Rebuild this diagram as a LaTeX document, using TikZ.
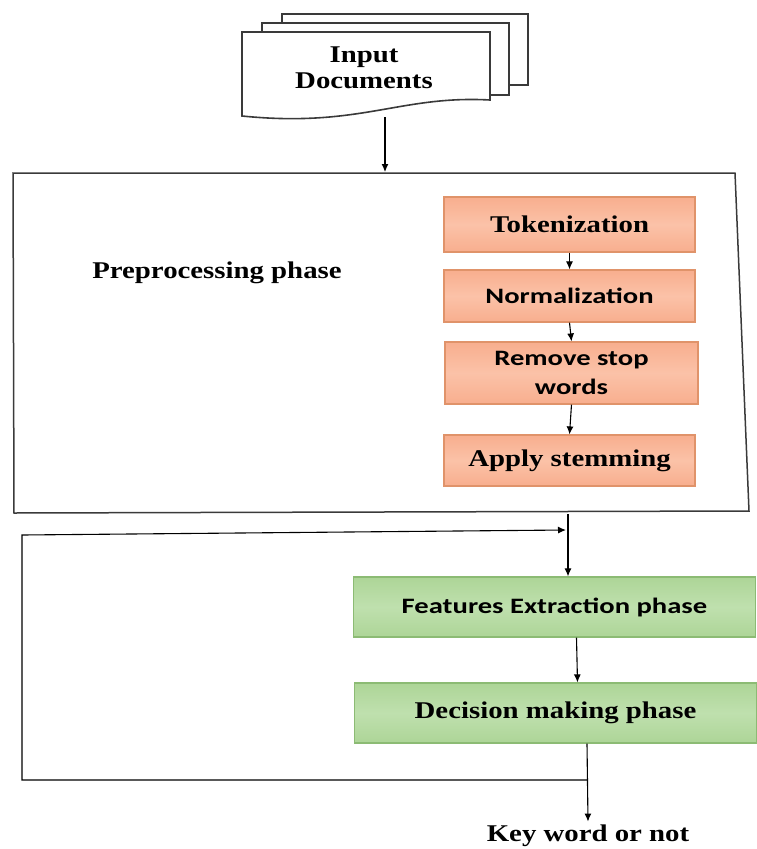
\documentclass[tikz,border=0pt]{standalone}
\usepackage{fontspec}
\setmainfont{Liberation Serif}[FakeStretch=1.2]
\newfontfamily\calib{Carlito}[FakeStretch=1.3]
\usetikzlibrary{calc}
\usetikzlibrary{arrows.meta}
\usetikzlibrary{positioning}
\usepackage{xcolor}
\definecolor{orfill}{HTML}{F8AE8E}
\definecolor{orlight}{HTML}{FBC2A8}
\definecolor{ordraw}{HTML}{E0936A}
\definecolor{grfill}{HTML}{ADD597}
\definecolor{grlight}{HTML}{BFE0AE}
\definecolor{grdraw}{HTML}{8CBB74}
\definecolor{frame}{HTML}{3A3A3A}

\tikzset{
  serifbig/.style={font=\fontsize{24}{26}\selectfont\bfseries},
  sansbig/.style={font=\fontsize{22}{29}\selectfont\calib\bfseries},
  stepbox/.style={draw=ordraw, line width=1.2pt, top color=orfill, bottom color=orfill, middle color=orlight,
    minimum width=251pt, align=center, inner sep=2pt},
  phasebox/.style={draw=grdraw, line width=1.2pt, top color=grfill, bottom color=grfill, middle color=grlight,
    minimum width=402pt, minimum height=60pt, align=center},
  page/.style={draw=frame, line width=1.6pt, fill=white},
  arr/.style={black, line width=1.1pt, -{Latex[length=8pt,width=7pt]}}
}

\begin{document}
\begin{tikzpicture}[x=1pt,y=-1pt]
\useasboundingbox (0,0) rectangle (756,849);
% stack of input documents
\draw[page] (282,14) rectangle (528,85);
\draw[page] (262,23) rectangle (509,95);
\draw[page] (242,32) -- (490,32) -- (490,100) .. controls (400,95) and (360,128) .. (242,116) -- cycle;
\node[serifbig, align=center] (docs) at (364,68) {Input\\Documents};
\coordinate (docout) at (385,117);
% preprocessing frame
\draw[frame, line width=1.5pt] (13,173) -- (735,173) -- (749,511) -- (14,513) -- cycle;
\coordinate (prein) at (385,172);
\coordinate (preout) at (568,514);
\node[serifbig] (prelabel) at (217,273) {Preprocessing phase};
\node[stepbox, serifbig, minimum height=55pt] (tok) at (569.5,224.5) {Tokenization};
\node[stepbox, sansbig, minimum height=52pt] (norm) at (569.5,296) {Normalization};
\node[stepbox, sansbig, minimum height=62pt, minimum width=253pt] (stop) at (571.5,373) {Remove stop\\words};
\node[stepbox, serifbig, minimum height=51pt] (stem) at (569.5,460.5) {Apply stemming};
\draw[arr] (docout) -- (prein);
\draw[arr] (tok.south) -- (norm.north);
\draw[arr] (norm.south) -- (stop.north);
\draw[arr] (stop.south) -- (stem.north);
% later phases
\node[phasebox, sansbig] (feat) at (554.5,607) {Features Extraction phase};
\node[phasebox, serifbig] (dec) at (555.5,713) {Decision making phase};
\node[serifbig] (out) at (588,836) {Key word or not};
\coordinate (join) at (587,780);
\coordinate (loopend) at (566,530);
\draw[arr] (preout) -- (preout |- feat.north);
\draw[arr] ([xshift=22pt]feat.south) -- ([xshift=22pt]dec.north);
\draw[arr] ([xshift=31.5pt]dec.south) -- (out.north);
\draw[arr] (join) -- (22,780) -- (22,535) -- (loopend);
\end{tikzpicture}
\end{document}
